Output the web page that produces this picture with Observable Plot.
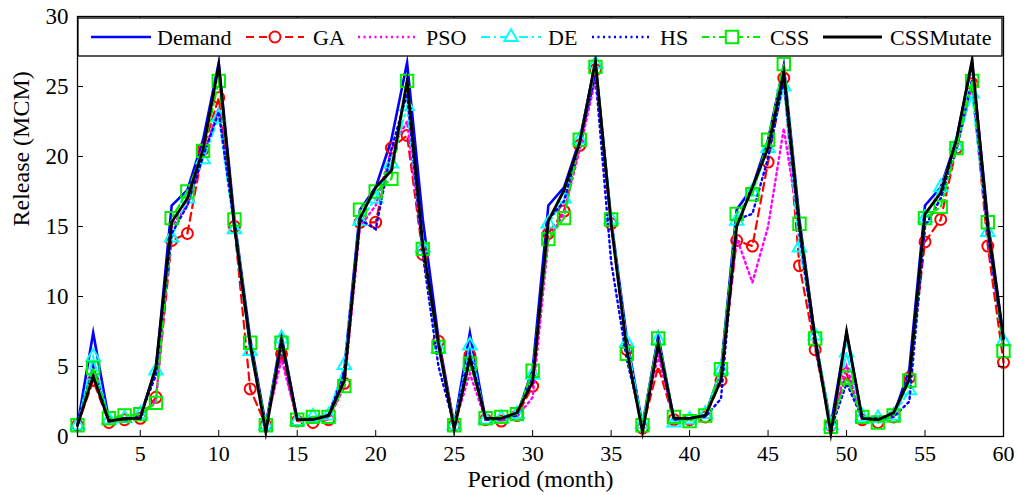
<!DOCTYPE html>
<html><head><meta charset="utf-8">
<script src="https://cdn.jsdelivr.net/npm/d3@7"></script>
<script src="https://cdn.jsdelivr.net/npm/@observablehq/plot@0.6"></script>
<style>body{margin:0;background:#fff;} #chart svg{display:block;}</style>
</head><body><div id="chart"></div>
<script>
// ---- data ----
const months = d3.range(1, 61);
const xTicks = [5, 10, 15, 20, 25, 30, 35, 40, 45, 50, 55, 60];
const yTicks = [0, 5, 10, 15, 20, 25, 30];
const seriesNames = ["Demand", "GA", "PSO", "DE", "HS", "CSS", "CSSMutate"];

const demand = [0.8,7.4,1.2,1.3,1.5,4.8,16.5,17.6,21.2,26.7,15.5,7.0,
                0.8,7.2,1.2,1.3,1.5,4.8,16.2,17.8,21.2,26.7,15.5,7.0,
                0.8,7.4,1.2,1.3,1.5,4.8,16.5,17.8,21.2,26.7,15.5,7.0,
                0.8,7.2,1.2,1.3,1.5,4.8,16.2,17.8,21.2,26.5,15.5,7.0,
                0.8,7.4,1.2,1.3,1.5,4.8,16.5,17.8,21.2,26.7,15.5,7.0];
const ga = [0.8,4.0,1.0,1.2,1.3,2.8,14.0,14.5,20.5,24.2,15.0,3.4,
            0.8,5.9,1.1,1.0,1.2,3.8,15.3,15.3,20.6,21.5,13.0,6.8,
            0.8,5.8,1.2,1.1,1.5,3.6,14.5,16.1,20.8,26.2,15.2,6.2,
            0.6,5.0,1.2,1.2,1.4,4.0,14.0,13.6,19.6,25.6,12.2,6.2,
            0.8,4.5,1.2,1.0,1.4,4.2,13.9,15.5,20.6,25.2,13.6,5.3];
const pso = [0.8,4.5,1.2,1.3,1.4,2.6,15.0,16.5,20.0,23.5,15.0,6.5,
             0.8,5.5,1.2,1.2,1.3,3.5,15.0,16.5,20.5,22.5,13.3,6.5,
             0.8,4.5,1.2,1.2,1.4,2.8,14.0,16.0,20.5,25.5,15.3,6.3,
             0.8,5.8,1.2,1.2,1.4,4.2,14.2,11.0,15.0,22.0,14.8,7.0,
             0.8,5.0,1.2,1.2,1.4,4.2,15.0,17.0,20.5,25.0,14.5,6.5];
const de = [0.8,5.7,1.2,1.3,1.6,4.7,14.2,17.0,19.8,22.8,14.8,6.1,
            0.8,7.0,1.1,1.4,1.5,5.1,15.4,17.0,19.5,23.6,13.5,6.3,
            0.8,6.5,1.2,1.3,1.6,4.4,15.2,17.0,21.2,26.6,15.5,6.7,
            0.9,6.9,1.0,1.2,1.6,4.8,15.4,17.5,20.6,25.0,13.5,7.2,
            0.8,6.0,1.4,1.3,1.5,3.3,15.6,17.8,20.8,24.5,14.6,6.8];
const hs = [0.8,5.0,1.2,1.1,1.5,4.4,14.5,16.5,20.0,23.2,15.0,6.5,
            0.8,6.5,1.2,1.3,1.5,4.5,15.5,14.8,20.5,24.5,13.0,5.0,
            0.8,6.0,1.2,1.3,1.5,4.5,15.5,16.8,21.0,25.8,12.5,5.5,
            0.8,6.5,1.2,1.3,1.4,2.7,15.5,15.9,19.9,25.5,14.5,6.5,
            0.5,3.8,1.3,1.3,1.4,2.5,15.0,17.0,20.5,25.5,14.5,6.5];
const css = [0.8,4.9,1.3,1.5,1.6,2.4,15.6,17.5,20.4,25.4,15.5,6.7,
             0.8,6.7,1.2,1.4,1.4,3.6,16.2,17.5,18.4,25.4,13.4,6.4,
             0.8,5.2,1.3,1.4,1.6,4.7,14.1,15.6,21.2,26.4,15.5,5.9,
             0.8,7.0,1.4,1.1,1.5,4.8,15.9,17.3,21.2,26.6,15.2,7.0,
             0.7,4.2,1.4,1.0,1.5,4.0,15.6,16.4,20.6,25.4,15.3,6.1];
const cssMutate = [0.8,4.3,1.1,1.3,1.3,5.0,15.3,17.0,20.5,26.5,15.0,6.6,
                   0.3,6.9,1.2,1.2,1.5,4.0,15.6,17.8,19.0,25.4,13.7,6.6,
                   0.5,5.6,1.3,1.3,1.7,3.9,15.4,17.6,21.0,26.8,15.2,6.2,
                   0.3,6.6,1.3,1.3,1.5,4.0,15.0,17.8,20.6,26.0,15.0,7.0,
                   0.2,7.5,1.3,1.2,1.7,4.1,15.9,17.4,21.2,26.9,15.0,7.0];

const seriesValues = [demand, ga, pso, de, hs, css, cssMutate];
const data = seriesNames.flatMap((name, k) =>
  months.map((m, i) => ({month: m, value: seriesValues[k][i], series: name})));

// ---- styles ----
const styles = {
  Demand:    {stroke: "#0000ff", width: 2.6, dash: null, marker: null},
  GA:        {stroke: "#ff0000", width: 2.2, dash: "8,5", marker: "circle"},
  PSO:       {stroke: "#ff00ff", width: 2.4, dash: "2,3.5", marker: null},
  DE:        {stroke: "#00ffff", width: 2.2, dash: "9,4,2,4", marker: "triangle"},
  HS:        {stroke: "#0000ff", width: 2.4, dash: "2,3.5", marker: null},
  CSS:       {stroke: "#00ee00", width: 2.2, dash: "7,4,2,4", marker: "square"},
  CSSMutate: {stroke: "#000000", width: 2.8, dash: null, marker: null}
};
const markerR = {circle: 5.5, triangle: 5, square: 7};

const font = "'Liberation Serif', 'Times New Roman', serif";

const seriesMarks = seriesNames.flatMap(name => {
  const s = styles[name];
  const rows = data.filter(d => d.series === name);
  const marks = [Plot.line(rows, {x: "month", y: "value", stroke: s.stroke, strokeWidth: s.width,
    strokeDasharray: s.dash, strokeLinejoin: "miter", strokeMiterlimit: 10})];
  if (s.marker) marks.push(Plot.dot(rows, {x: "month", y: "value", symbol: s.marker, r: markerR[s.marker],
    stroke: s.stroke, strokeWidth: 2, fill: "none"}));
  return marks;
});

const chart = Plot.plot({
  width: 1018, height: 495,
  marginLeft: 77, marginRight: 15, marginTop: 16, marginBottom: 59,
  x: {domain: [1, 60]},
  y: {domain: [0, 30]},
  style: {fontFamily: font, fontSize: "23px", color: "#000", background: "#fff", overflow: "visible"},
  marks: [
    ...seriesMarks,
    Plot.frame({stroke: "#000", strokeWidth: 1.3}),
    Plot.axisX(xTicks, {anchor: "bottom", tickSize: -6, tickPadding: 15, label: null, fontSize: 22}),
    Plot.axisX(xTicks, {anchor: "top", tickSize: -6, tickFormat: () => "", label: null}),
    Plot.axisY(yTicks, {anchor: "left", tickSize: -6, tickPadding: 15, label: null, fontSize: 23}),
    Plot.axisY(yTicks, {anchor: "right", tickSize: -6, tickFormat: () => "", label: null}),
    Plot.text(["Period (month)"], {frameAnchor: "bottom", dy: 50, fontSize: 24, fill: "#000"}),
    Plot.text(["Release (MCM)"], {frameAnchor: "left", dx: -56, rotate: -90, fontSize: 24, fill: "#000"})
  ]
});
document.getElementById("chart").appendChild(chart);

// ---- legend (inside the plot, along the top) ----
const svg = d3.select(chart);
const lg = svg.append("g").attr("font-family", font).attr("font-size", 22).attr("text-anchor", "start");
lg.append("rect").attr("x", 78).attr("y", 18).attr("width", 924).attr("height", 38)
  .attr("fill", "#fff").attr("stroke", "#000").attr("stroke-width", 1.3);
const legendLayout = [[91, 151, 157], [246, 304, 313], [358, 416, 426], [481, 541, 548],
                      [592, 652, 660], [702, 762, 770], [823, 882, 890]];
const ly = 37;
seriesNames.forEach((name, k) => {
  const s = styles[name];
  const [x0, x1, tx] = legendLayout[k];
  lg.append("line").attr("x1", x0).attr("x2", x1).attr("y1", ly).attr("y2", ly)
    .attr("stroke", s.stroke).attr("stroke-width", s.width).attr("stroke-dasharray", s.dash);
  const cx = (x0 + x1) / 2;
  if (s.marker) {
    const sym = {circle: d3.symbolCircle, triangle: d3.symbolTriangle, square: d3.symbolSquare}[s.marker];
    const r = markerR[s.marker];
    lg.append("path").attr("transform", `translate(${cx},${ly})`)
      .attr("d", d3.symbol(sym, Math.PI * r * r)())
      .attr("fill", "#fff").attr("stroke", s.stroke).attr("stroke-width", 2);
  }
  lg.append("text").attr("x", tx).attr("y", ly + 8).attr("text-anchor", "start")
    .attr("fill", "#000").text(name);
});
</script>
</body></html>
